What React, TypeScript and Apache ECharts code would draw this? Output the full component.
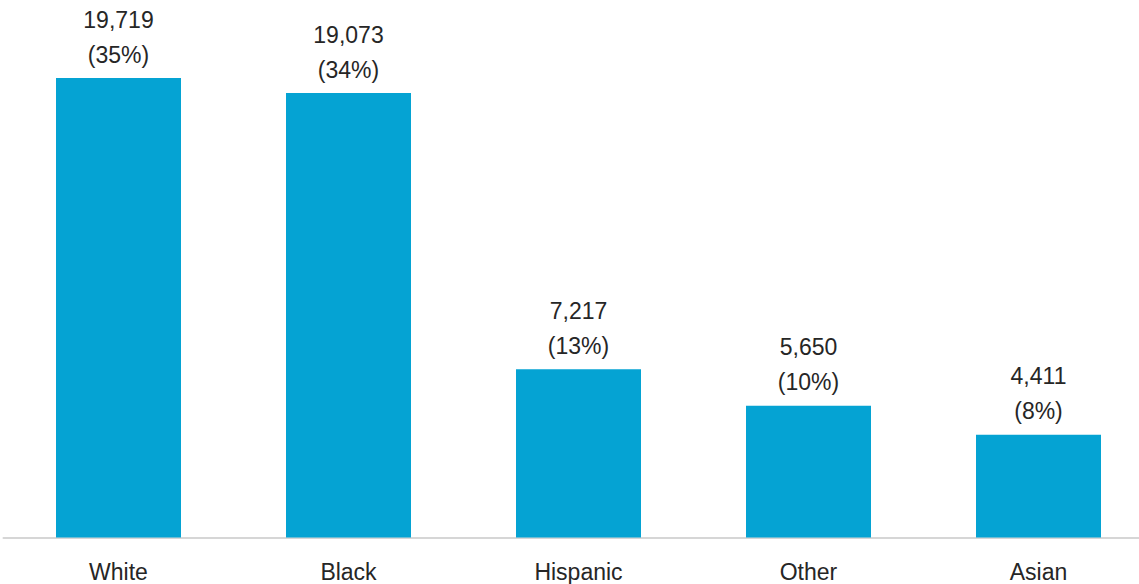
import React, { useEffect, useRef } from "react";
import * as echarts from "echarts";

const categories = ["White", "Black", "Hispanic", "Other", "Asian"];
const counts = [19719, 19073, 7217, 5650, 4411];
const percents = [35, 34, 13, 10, 8];

const FONT = "'Liberation Sans', Arial, sans-serif";

export default function App() {
  const ref = useRef<HTMLDivElement>(null);
  useEffect(() => {
    if (!ref.current) return;
    const chart = echarts.init(ref.current, undefined, { renderer: "svg" });
    chart.setOption({
      animation: false,
      backgroundColor: "#ffffff",
      grid: { left: 3.5, right: 6.5, top: 71.5, bottom: 46.5, containLabel: false },
      xAxis: {
        type: "category",
        data: categories,
        axisLine: { show: true, lineStyle: { color: "#d6d6d6", width: 2 } },
        axisTick: { show: false },
        axisLabel: {
          color: "#262626",
          fontFamily: FONT,
          fontSize: 23,
          margin: 23,
        },
      },
      yAxis: {
        type: "value",
        min: 0,
        max: 20000,
        show: false,
        splitLine: { show: false },
      },
      series: [
        {
          type: "bar",
          data: counts,
          barWidth: 125,
          itemStyle: { color: "#05a3d3" },
          label: {
            show: true,
            position: "top",
            distance: 6,
            color: "#262626",
            fontFamily: FONT,
            fontSize: 23,
            lineHeight: 35,
            formatter: (p: any) =>
              `${counts[p.dataIndex].toLocaleString("en-US")}\n(${percents[p.dataIndex]}%)`,
          },
        },
      ],
    });
    return () => chart.dispose();
  }, []);
  return (
    <div style={{ position: "absolute", left: 0, top: 0, width: 1139, height: 584, overflow: "hidden" }}>
      <div ref={ref} style={{ width: 1160, height: 584 }} />
    </div>
  );
}
